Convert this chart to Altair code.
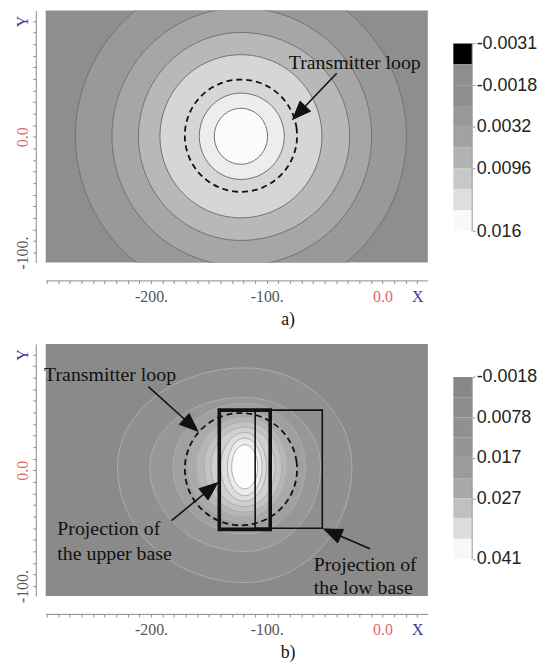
import math
import altair as alt
import pandas as pd

# ---------------- shared axis frame (data units) ----------------
X_DOMAIN = [-291.0, 39.2]
Y_DOMAIN = [-108.6, 109.2]
PLOT_W, PLOT_H = 385, 254
x_ticks = list(range(-290, 31, 10))
y_ticks = list(range(-100, 101, 10))
x_label_values = [-200, -100, 0, 30]
x_label_texts = ["-200.", "-100.", "0.0", "X"]
y_label_values = [-100, 0, 100]
y_label_texts = ["-100.", "0.0", "Y"]

# each contour is read as four half-axes from its centre: [east, north, west, south]
# ---------------- panel a ----------------
a_center = [-122.3, 0.5]
a_ring_axes = [
    [143, 141, 143, 141],
    [113, 111, 111.5, 112],
    [94, 89.7, 88.6, 90],
    [70, 70.5, 70, 70.5],
    [37.5, 37.3, 36, 37.3],
    [23, 24.2, 23, 24.2],
]
a_ring_fills = ["#999999", "#a6a6a6", "#b8b8b8", "#d6d6d6", "#ededed", "#fbfbfb"]
a_background = "#8e8e8e"
a_line_color = "#727272"
a_loop = [-122.3, 1.0, 48.5]
a_text_x = [-81.0]
a_text_y = [64.0]
a_texts = ["Transmitter loop"]
a_tail_x = [-39.5]
a_tail_y = [55.0]
a_tip_x = [-77.7]
a_tip_y = [15.0]
a_rect_x = []
a_rect_x2 = []
a_rect_y = []
a_rect_y2 = []
a_rect_w = []

a_legend_colors = ["#000000", "#8e8e8e", "#8e8e8e", "#989898", "#a2a2a2",
                   "#b2b2b2", "#c8c8c8", "#dedede", "#f9f9f9"]
a_legend_pos = [0, 2, 4, 6, 9]
a_legend_labels = ["-0.0031", "-0.0018", "0.0032", "0.0096", "0.016"]
a_legend_domain = [10.51, -1.586]

# ---------------- panel b ----------------
b_center = [-119.0, 3.0]
b_ring_axes = [
    [92.6, 85.5, 110, 100],
    [65.5, 60, 82, 73],
    [52.4, 55, 62, 58],
    [44, 48, 49, 48],
    [36.5, 43, 42, 43],
    [32, 39, 35, 39],
    [26.4, 34.3, 29.3, 34.3],
    [18.7, 29.7, 20.8, 29.7],
    [15, 24.9, 15, 24.9],
    [11.2, 19.1, 11.3, 19.1],
]
b_ring_fills = ["#909090", "#979797", "#a0a0a0", "#aaaaaa", "#b6b6b6",
                "#c3c3c3", "#d0d0d0", "#dddddd", "#ebebeb", "#fdfdfd"]
b_background = "#8a8a8a"
b_line_color = "#adadad"
b_loop = [-122.3, 1.0, 48.5]
b_text_x = [-292.4, -281.0, -281.0, -59.4, -59.4]
b_text_y = [82.3, -50.6, -72.0, -82.0, -102.0]
b_texts = ["Transmitter loop", "Projection of", "the upper base", "Projection of", "the low base"]
b_tail_x = [-202.3, -182.3, -10.8]
b_tail_y = [72.3, -43.5, -67.8]
b_tip_x = [-159.4, -142.3, -50.9]
b_tip_y = [33.7, -10.6, -50.6]
b_rect_x = [-141.0, -110.0]
b_rect_x2 = [-97.0, -52.0]
b_rect_y = [-51.0, -50.0]
b_rect_y2 = [52.0, 52.0]
b_rect_w = [3.6, 1.6]

b_legend_colors = ["#888888", "#8c8c8c", "#909090", "#959595", "#9b9b9b",
                   "#a8a8a8", "#c0c0c0", "#dcdcdc", "#f8f8f8"]
b_legend_pos = [0, 2, 4, 6, 9]
b_legend_labels = ["-0.0018", "0.0078", "0.017", "0.027", "0.041"]
b_legend_domain = [10.83, -1.635]

RED = "#e06666"
BLUE = "#3c3ca0"
GRAY = "#555555"
INK = "#111111"


def label_expr(values, texts):
    expr = ""
    for v, t in zip(values, texts):
        expr += f"datum.value == {v} ? '{t}' : "
    return expr + "''"


def ring_table(center, axes_sets, n=48):
    rows = []
    for ring, (e, nn, w, s) in enumerate(axes_sets):
        for k in range(n):
            t = 2 * math.pi * k / n
            c, sn = math.cos(t), math.sin(t)
            rows.append(dict(ring=ring, k=k,
                             x=center[0] + (e if c >= 0 else w) * c,
                             y=center[1] + (nn if sn >= 0 else s) * sn))
    return pd.DataFrame(rows)


def circle_table(loop, n=48):
    cx, cy, r = loop
    return pd.DataFrame([dict(k=k, x=cx + r * math.cos(2 * math.pi * k / n),
                              y=cy + r * math.sin(2 * math.pi * k / n)) for k in range(n)])


def arrow_tables(tx, ty, hx, hy, L=16.0, W=6.3):
    shafts, heads = [], []
    for i, (x0, y0, x1, y1) in enumerate(zip(tx, ty, hx, hy)):
        d = math.hypot(x1 - x0, y1 - y0)
        ux, uy = (x1 - x0) / d, (y1 - y0) / d
        nx, ny = -uy, ux
        bx, by = x1 - L * ux, y1 - L * uy
        shafts.append(dict(x=x0, y=y0, x2=bx + 2 * ux, y2=by + 2 * uy))
        for k, (px, py) in enumerate([(x1, y1), (bx + W * nx, by + W * ny), (bx - W * nx, by - W * ny)]):
            heads.append(dict(id=i, k=k, x=px, y=py))
    return pd.DataFrame(shafts), pd.DataFrame(heads)


def x_axis(caption):
    return alt.Axis(
        values=x_ticks, labelExpr=label_expr(x_label_values, x_label_texts),
        offset=18, grid=False, domainColor="#8a8a8a", tickColor="#8a8a8a",
        tickSize=3, labelFont="Liberation Serif", labelFontSize=16,
        labelColor={"condition": [{"test": "datum.value == 0", "value": RED},
                                  {"test": "datum.value == 30", "value": BLUE}],
                    "value": GRAY},
        labelPadding=5, labelFlush=False, labelOverlap=False,
        title=caption, titleFont="Liberation Serif", titleFontSize=18,
        titleFontWeight="normal", titleColor=INK, titleX=243.7, titlePadding=6)


def y_axis():
    return alt.Axis(
        values=y_ticks, labelExpr=label_expr(y_label_values, y_label_texts),
        offset=10, grid=False, domainColor="#8a8a8a", tickColor="#8a8a8a",
        tickSize=3, labelFont="Liberation Serif", labelFontSize=16,
        labelAngle=270, labelAlign="center", labelBaseline="bottom",
        labelColor={"condition": [{"test": "datum.value == 0", "value": RED},
                                  {"test": "datum.value == 100", "value": BLUE}],
                    "value": GRAY},
        labelPadding=2, labelFlush=False, labelOverlap=False, title=None)


def panel(center, axes_sets, fills, line_color, bg, loop, text_x, text_y, texts,
          tail_x, tail_y, tip_x, tip_y, rx, rx2, ry, ry2, rw, caption):
    xs = alt.Scale(domain=X_DOMAIN, nice=False, zero=False)
    ys = alt.Scale(domain=Y_DOMAIN, nice=False, zero=False)
    X = alt.X("x:Q", scale=xs, axis=x_axis(caption))
    Y = alt.Y("y:Q", scale=ys, axis=y_axis())
    rings = ring_table(center, axes_sets)
    layers = []
    for i, f in enumerate(fills):
        layers.append(
            alt.Chart(rings).transform_filter(alt.datum.ring == i)
            .mark_line(interpolate="cardinal-closed", fill=f, stroke=line_color,
                       strokeWidth=1, clip=True)
            .encode(x=X, y=Y, order=alt.Order("k:Q")))
    layers.append(
        alt.Chart(circle_table(loop))
        .mark_line(interpolate="cardinal-closed", stroke=INK, strokeWidth=1.8,
                   strokeDash=[6, 4])
        .encode(x=X, y=Y, order=alt.Order("k:Q")))
    if rx:
        rects = pd.DataFrame(dict(x=rx, x2=rx2, y=ry, y2=ry2, w=rw))
        layers.append(
            alt.Chart(rects).mark_rect(fillOpacity=0, stroke=INK)
            .encode(x=X, x2="x2:Q", y=Y, y2="y2:Q",
                    strokeWidth=alt.StrokeWidth("w:Q", scale=None)))
    shafts, heads = arrow_tables(tail_x, tail_y, tip_x, tip_y)
    layers.append(alt.Chart(shafts).mark_rule(color=INK, strokeWidth=1.6)
                  .encode(x=X, y=Y, x2="x2:Q", y2="y2:Q"))
    layers.append(alt.Chart(heads).mark_line(interpolate="linear-closed", fill=INK,
                                             stroke=INK, strokeWidth=1)
                  .encode(x=X, y=Y, order=alt.Order("k:Q"), detail="id:N"))
    tdf = pd.DataFrame(dict(x=text_x, y=text_y, text=texts))
    layers.append(alt.Chart(tdf).mark_text(align="left", baseline="middle",
                                           font="Liberation Serif", fontSize=20, color=INK)
                  .encode(x=X, y=Y, text="text:N"))
    return alt.layer(*layers).properties(
        width=PLOT_W, height=PLOT_H,
        view=alt.ViewBackground(fill=bg, strokeWidth=0))


def legend(colors, pos, labels, domain):
    n = len(colors)
    df = pd.DataFrame(dict(b0=list(range(n)), b1=list(range(1, n + 1)), c=colors,
                           x0=[0] * n, x1=[1] * n))
    xs = alt.Scale(domain=[0, 1], nice=False, zero=False)
    ys = alt.Scale(domain=domain, nice=False, zero=False)
    ax = alt.Axis(orient="right", values=pos, labelExpr=label_expr(pos, labels),
                  domain=False, grid=False, ticks=True, tickSize=3, tickColor="#9a9a9a",
                  labelFont="Liberation Sans", labelFontSize=18, labelColor="#222222",
                  labelPadding=1, labelBaseline="middle", labelOverlap=False,
                  labelFlush=False, title=None)
    bars = alt.Chart(df).mark_rect().encode(
        x=alt.X("x0:Q", scale=xs, axis=None), x2="x1:Q",
        y=alt.Y("b0:Q", scale=ys, axis=ax), y2="b1:Q",
        color=alt.Color("c:N", scale=None))
    edge_df = pd.DataFrame(dict(x1=[1], b0=[0], b1=[n]))
    edge = alt.Chart(edge_df).mark_rule(color="#9a9a9a", strokeWidth=1).encode(
        x=alt.X("x1:Q", scale=xs, axis=None),
        y=alt.Y("b0:Q", scale=ys, axis=ax), y2="b1:Q")
    return alt.layer(bars, edge).properties(width=19, height=PLOT_H)


pa = panel(a_center, a_ring_axes, a_ring_fills, a_line_color, a_background, a_loop,
           a_text_x, a_text_y, a_texts, a_tail_x, a_tail_y, a_tip_x, a_tip_y,
           a_rect_x, a_rect_x2, a_rect_y, a_rect_y2, a_rect_w, "a)")
pb = panel(b_center, b_ring_axes, b_ring_fills, b_line_color, b_background, b_loop,
           b_text_x, b_text_y, b_texts, b_tail_x, b_tail_y, b_tip_x, b_tip_y,
           b_rect_x, b_rect_x2, b_rect_y, b_rect_y2, b_rect_w, "b)")
la = legend(a_legend_colors, a_legend_pos, a_legend_labels, a_legend_domain)
lb = legend(b_legend_colors, b_legend_pos, b_legend_labels, b_legend_domain)

chart = alt.concat(
    pa, la, pb, lb, columns=2,
    spacing={"row": 82, "column": 25.7}, bounds="flush",
).properties(
    padding={"left": 7, "top": 0, "right": 0, "bottom": 0}
).configure_view(strokeWidth=0)

chart.save("out.html", embed_options={"renderer": "svg", "actions": False})
